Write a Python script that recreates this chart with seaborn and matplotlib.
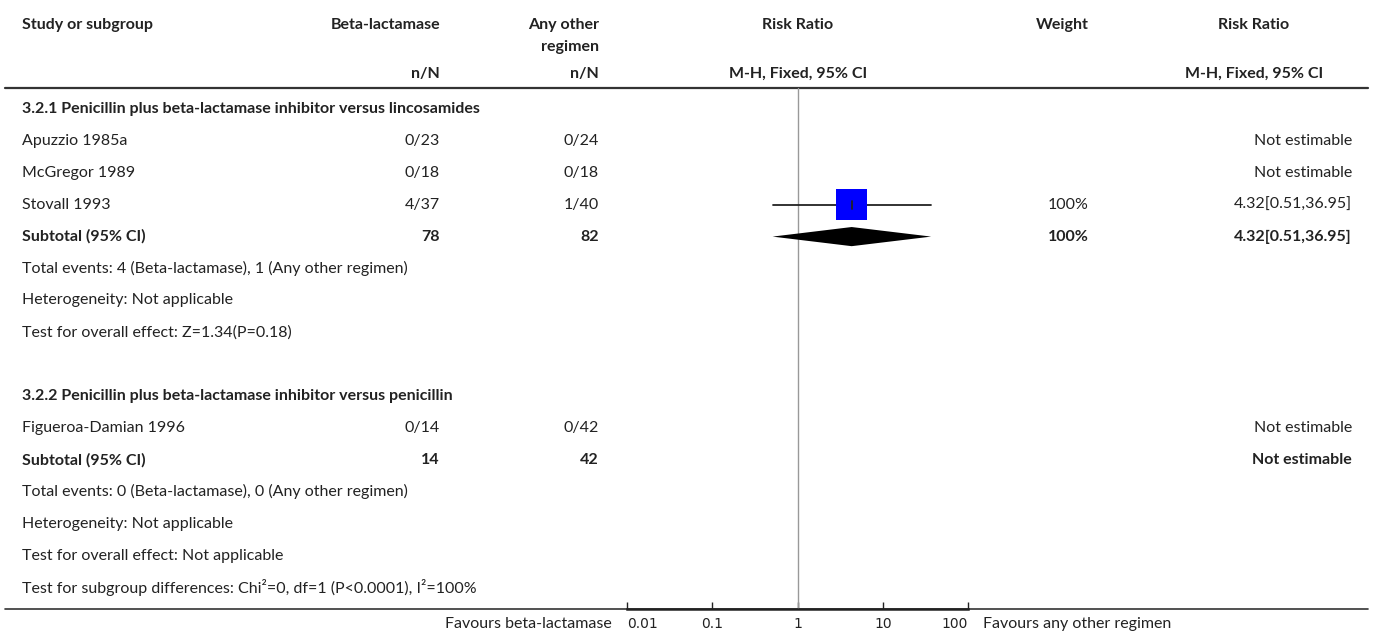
import numpy as np
import matplotlib.pyplot as plt
import seaborn as sns

# study-level data
studies = ["Apuzzio 1985a", "McGregor 1989", "Stovall 1993", "Figueroa-Damian 1996"]
study_group = [0, 0, 0, 1]
ev_bl = [0, 0, 4, 0]
n_bl = [23, 18, 37, 14]
ev_oth = [0, 0, 1, 0]
n_oth = [24, 18, 40, 42]
rr = [np.nan, np.nan, 4.32, np.nan]
rr_lo = [np.nan, np.nan, 0.51, np.nan]
rr_hi = [np.nan, np.nan, 36.95, np.nan]
weights = ["", "", "100%", ""]

# subgroup data
groups = ["3.2.1 Penicillin plus beta-lactamase inhibitor versus lincosamides",
          "3.2.2 Penicillin plus beta-lactamase inhibitor versus penicillin"]
sub_n_bl = [78, 14]
sub_n_oth = [82, 42]
sub_rr = [4.32, np.nan]
sub_lo = [0.51, np.nan]
sub_hi = [36.95, np.nan]
sub_weight = ["100%", ""]
sub_events = ["Total events: 4 (Beta-lactamase), 1 (Any other regimen)",
              "Total events: 0 (Beta-lactamase), 0 (Any other regimen)"]
sub_het = ["Heterogeneity: Not applicable", "Heterogeneity: Not applicable"]
sub_test = ["Test for overall effect: Z=1.34(P=0.18)",
            "Test for overall effect: Not applicable"]
subgroup_diff = "Test for subgroup differences: Chi\u00b2=0, df=1 (P<0.0001), I\u00b2=100%"
ticks = [0.01, 0.1, 1, 10, 100]
tick_labels = ["0.01", "0.1", "1", "10", "100"]

sns.set_theme(style="white")
plt.rcParams['font.family'] = ['Lato', 'DejaVu Sans']

W, H = 1373, 640
fig = plt.figure(figsize=(W / 100, H / 100), dpi=100)

row0_px, row_h = 109, 31.9
def px2row(p):
    return (p - row0_px) / row_h

# full-width table axes: x in pixels, y in row units
axt = fig.add_axes([0, 0, 1, 1])
axt.set_xlim(0, W)
axt.set_ylim(px2row(H), px2row(0))
axt.axis("off")

# forest axes
fx0, fx1, fy0, fy1 = 627, 968, 88, 609
axf = fig.add_axes([fx0 / W, (H - fy1) / H, (fx1 - fx0) / W, (fy1 - fy0) / H])
axf.set_xscale("log")
axf.set_xlim(0.01, 100)
axf.set_ylim(px2row(fy1), px2row(fy0))
axf.patch.set_alpha(0)
for s in ["top", "left", "right"]:
    axf.spines[s].set_visible(False)
axf.spines["bottom"].set_color("#222222")
axf.spines["bottom"].set_linewidth(1.8)
axf.set_yticks([])
axf.set_xticks(ticks)
axf.minorticks_off()
axf.tick_params(axis="x", direction="in", length=5, width=1, color="#222222",
                pad=6, bottom=True, labelcolor="#222222")
axf.set_xticklabels(tick_labels, family="DejaVu Sans", fontsize=10)
labels = axf.get_xticklabels()
labels[0].set_ha("left")
labels[-1].set_ha("right")
axf.axvline(1, color="#999999", lw=1)

txt = dict(fontsize=11.5, color="#222222", va="center")
c_name, c_bl, c_oth, c_rr, c_w, c_rr2, c_rr2_head = 22, 440, 599, 798, 1089, 1352, 1254

# headers
r = px2row(25)
axt.text(c_name, r, "Study or subgroup", ha="left", fontweight="bold", **txt)
axt.text(c_bl, r, "Beta-lactamase", ha="right", fontweight="bold", **txt)
axt.text(c_oth, r, "Any other", ha="right", fontweight="bold", **txt)
axt.text(c_oth, px2row(47), "regimen", ha="right", fontweight="bold", **txt)
axt.text(c_rr, r, "Risk Ratio", ha="center", fontweight="bold", **txt)
axt.text(c_w, r, "Weight", ha="right", fontweight="bold", **txt)
axt.text(c_rr2_head, r, "Risk Ratio", ha="center", fontweight="bold", **txt)
r = px2row(74)
axt.text(c_bl, r, "n/N", ha="right", fontweight="bold", **txt)
axt.text(c_oth, r, "n/N", ha="right", fontweight="bold", **txt)
axt.text(c_rr, r, "M-H, Fixed, 95% CI", ha="center", fontweight="bold", **txt)
axt.text(c_rr2_head, r, "M-H, Fixed, 95% CI", ha="center", fontweight="bold", **txt)
axt.plot([5, 1368], [px2row(88), px2row(88)], color="#333333", lw=1.6)
axt.plot([5, 1368], [px2row(609), px2row(609)], color="#333333", lw=1.2)

row = 0
for g, gname in enumerate(groups):
    axt.text(c_name, row, gname, ha="left", fontweight="bold", **txt)
    row += 1
    for i, s in enumerate(studies):
        if study_group[i] != g:
            continue
        axt.text(c_name, row, s, ha="left", **txt)
        axt.text(c_bl, row, f"{ev_bl[i]}/{n_bl[i]}", ha="right", **txt)
        axt.text(c_oth, row, f"{ev_oth[i]}/{n_oth[i]}", ha="right", **txt)
        axt.text(c_w, row, weights[i], ha="right", **txt)
        if np.isnan(rr[i]):
            axt.text(c_rr2, row, "Not estimable", ha="right", **txt)
        else:
            axt.text(c_rr2, row, f"{rr[i]:.2f}[{rr_lo[i]:.2f},{rr_hi[i]:.2f}]", ha="right", **txt)
            axf.plot([rr_lo[i], rr_hi[i]], [row, row], color="#222222", lw=1.3, zorder=2)
            sns.scatterplot(x=[rr[i]], y=[row], marker="s", s=500, color="#0000ff",
                            edgecolor="none", ax=axf, zorder=3)
            axf.plot([rr[i], rr[i]], [row - 0.13, row + 0.13], color="#222222", lw=1.3, zorder=4)
        row += 1
    # subtotal
    axt.text(c_name, row, "Subtotal (95% CI)", ha="left", fontweight="bold", **txt)
    axt.text(c_bl, row, str(sub_n_bl[g]), ha="right", fontweight="bold", **txt)
    axt.text(c_oth, row, str(sub_n_oth[g]), ha="right", fontweight="bold", **txt)
    axt.text(c_w, row, sub_weight[g], ha="right", fontweight="bold", **txt)
    if np.isnan(sub_rr[g]):
        axt.text(c_rr2, row, "Not estimable", ha="right", fontweight="bold", **txt)
    else:
        axt.text(c_rr2, row, f"{sub_rr[g]:.2f}[{sub_lo[g]:.2f},{sub_hi[g]:.2f}]",
                 ha="right", fontweight="bold", **txt)
        axf.fill([sub_lo[g], sub_rr[g], sub_hi[g], sub_rr[g]],
                 [row, row - 0.3, row, row + 0.3], color="black", lw=0, zorder=3)
    row += 1
    for line in (sub_events[g], sub_het[g], sub_test[g]):
        axt.text(c_name, row, line, ha="left", **txt)
        row += 1
    row += 1
row -= 1
axt.text(c_name, row, subgroup_diff, ha="left", **txt)

# favours labels
r = px2row(624)
axt.text(612, r, "Favours beta-lactamase", ha="right", **txt)
axt.text(983, r, "Favours any other regimen", ha="left", **txt)

fig.savefig("out.png", dpi=100)
